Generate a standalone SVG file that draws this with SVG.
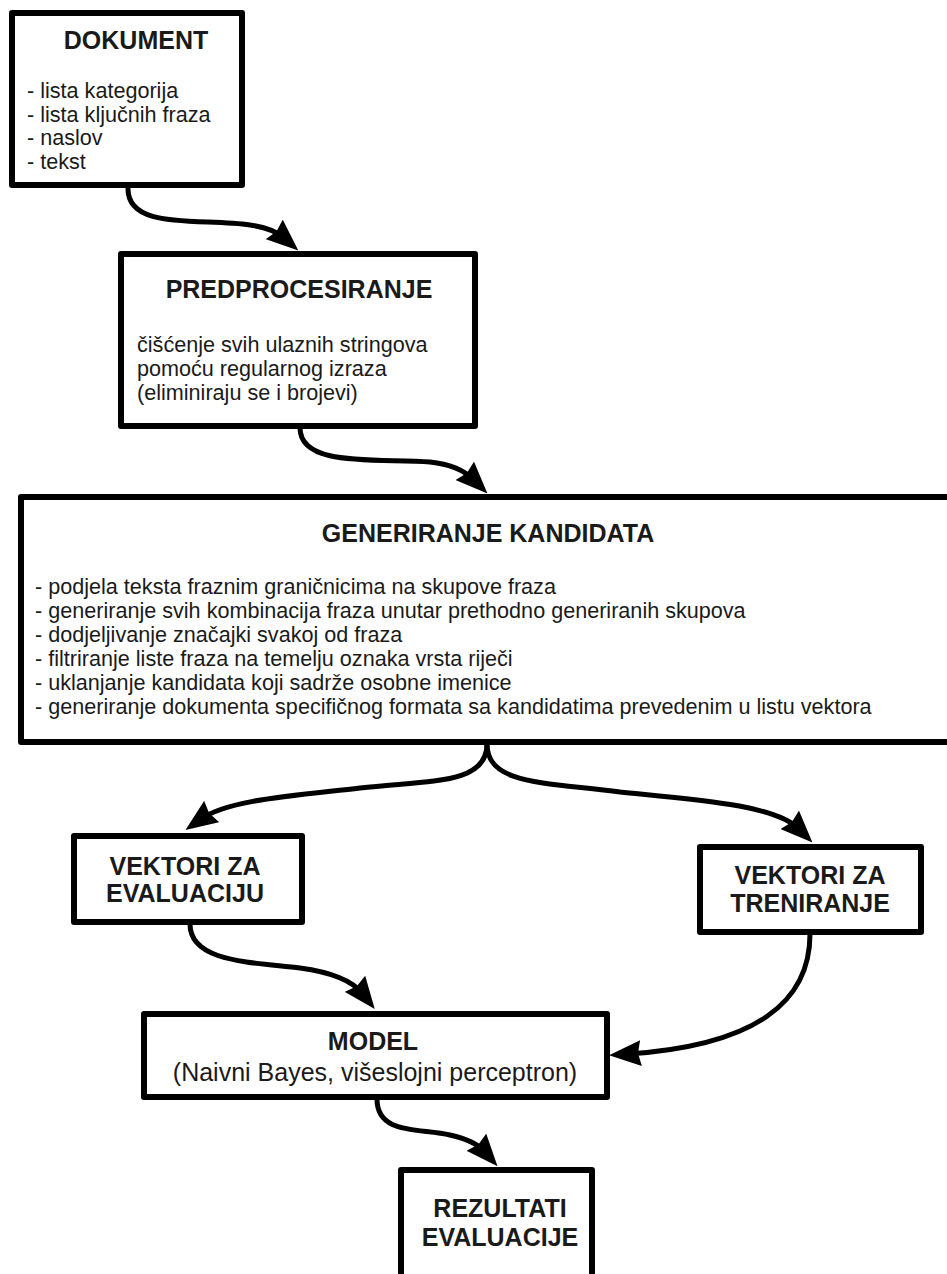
<svg xmlns="http://www.w3.org/2000/svg" width="947" height="1274" viewBox="0 0 947 1274">
<style>
.box{fill:#fff;stroke:#000;stroke-width:6;stroke-linejoin:round}
.t{font-family:"Liberation Sans",Arial,sans-serif;fill:#1a1a1a}
.h{font-weight:bold;font-size:25px}
.b{font-size:21.6px}
.s{font-size:25px}
.c{fill:none;stroke:#000;stroke-width:5;stroke-linecap:round}
</style>
<defs>
<marker id="ah" markerUnits="userSpaceOnUse" viewBox="0 0 32 26" refX="13" refY="13" markerWidth="32" markerHeight="26" orient="auto">
<path d="M0,0 L32,13 L0,26 L3,13 z" fill="#000"/>
</marker>
</defs>
<rect width="947" height="1274" fill="#fff"/>
<g id="dokument">
<rect class="box" x="12" y="13" width="230" height="172"/>
<text class="t h" x="136" y="49" text-anchor="middle">DOKUMENT</text>
<text class="t b" x="27" y="98">- lista kategorija</text>
<text class="t b" x="27" y="121.5">- lista ključnih fraza</text>
<text class="t b" x="27" y="145">- naslov</text>
<text class="t b" x="27" y="168.5">- tekst</text>
</g>
<g id="predprocesiranje">
<rect class="box" x="121" y="254" width="354" height="172"/>
<text class="t h" x="299" y="298" text-anchor="middle">PREDPROCESIRANJE</text>
<text class="t b" x="137" y="352">čišćenje svih ulaznih stringova</text>
<text class="t b" x="137" y="376">pomoću regularnog izraza</text>
<text class="t b" x="137" y="400">(eliminiraju se i brojevi)</text>
</g>
<g id="generiranje">
<rect class="box" x="21" y="497" width="950" height="245"/>
<text class="t h" x="488" y="542" text-anchor="middle">GENERIRANJE KANDIDATA</text>
<text class="t b" x="35" y="594">- podjela teksta fraznim graničnicima na skupove fraza</text>
<text class="t b" x="35" y="618">- generiranje svih kombinacija fraza unutar prethodno generiranih skupova</text>
<text class="t b" x="35" y="642">- dodjeljivanje značajki svakoj od fraza</text>
<text class="t b" x="35" y="666">- filtriranje liste fraza na temelju oznaka vrsta riječi</text>
<text class="t b" x="35" y="690">- uklanjanje kandidata koji sadrže osobne imenice</text>
<text class="t b" x="35" y="714">- generiranje dokumenta specifičnog formata sa kandidatima prevedenim u listu vektora</text>
</g>
<g id="vektori-evaluacija">
<rect class="box" x="74" y="836" width="228" height="86"/>
<text class="t h" x="185" y="875" text-anchor="middle">VEKTORI ZA</text>
<text class="t h" x="185" y="902" text-anchor="middle">EVALUACIJU</text>
</g>
<g id="vektori-treniranje">
<rect class="box" x="700" y="847" width="221" height="85"/>
<text class="t h" x="810" y="884" text-anchor="middle">VEKTORI ZA</text>
<text class="t h" x="810" y="912" text-anchor="middle">TRENIRANJE</text>
</g>
<g id="model">
<rect class="box" x="144" y="1014" width="463" height="83"/>
<text class="t h" x="373" y="1050" text-anchor="middle">MODEL</text>
<text class="t s" x="375" y="1081" text-anchor="middle">(Naivni Bayes, višeslojni perceptron)</text>
</g>
<g id="rezultati">
<rect class="box" x="401" y="1170" width="191" height="130"/>
<text class="t h" x="500" y="1217" text-anchor="middle">REZULTATI</text>
<text class="t h" x="500" y="1246" text-anchor="middle">EVALUACIJE</text>
</g>
<g id="connectors">
<path class="c" marker-end="url(#ah)" d="M128,189 C128,230 200,218 250,225 C265,227 276,231 284,238"/>
<path class="c" marker-end="url(#ah)" d="M300,428 C300,468 380,458 430,462 C450,464 465,471 474,480"/>
<path class="c" marker-end="url(#ah)" d="M487,744 C487,785 430,780 360,788 C290,796 228,800 201,819"/>
<path class="c" marker-end="url(#ah)" d="M487,744 C487,785 545,782 620,792 C700,800 775,805 799,829"/>
<path class="c" marker-end="url(#ah)" d="M190,924 C190,962 250,962 300,968 C330,972 352,980 363,994"/>
<path class="c" marker-end="url(#ah)" d="M810,934 C810,1000 760,1045 628,1054"/>
<path class="c" marker-end="url(#ah)" d="M377,1099 C377,1135 420,1128 450,1135 C468,1139 478,1144 485,1152"/>
</g>
</svg>
